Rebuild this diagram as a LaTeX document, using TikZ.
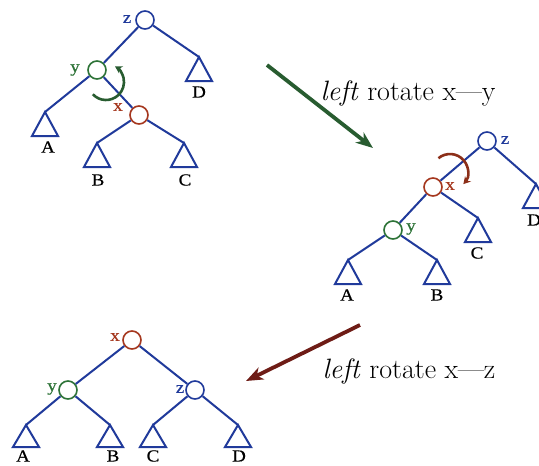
\documentclass[tikz,border=0pt]{standalone}
\usepackage{fontspec}
\newfontfamily\tms[FakeStretch=1.12,FakeBold=0.4]{Liberation Serif}
\usetikzlibrary{arrows.meta}
\definecolor{tblue}{RGB}{32,58,155}
\definecolor{tgreen}{RGB}{45,115,55}
\definecolor{tred}{RGB}{165,55,30}
\definecolor{agreen}{RGB}{40,92,48}
\definecolor{abrown}{RGB}{110,28,22}
\tikzset{
  vtx/.style={circle,draw,line width=1.6pt,minimum size=18pt,inner sep=0pt,fill=white},
  vb/.style={vtx,draw=tblue},
  vg/.style={vtx,draw=tgreen},
  vr/.style={vtx,draw=tred},
  edge/.style={draw=tblue,line width=2pt},
  tri/.style={draw=tblue,line width=2pt,line join=miter},
  lbl/.style={font=\tms\fontsize{17}{19}\selectfont,inner sep=0pt},
  captext/.style={font=\fontsize{28}{32}\selectfont,inner sep=0pt,anchor=base},
  bigarrow/.style={line width=3.8pt,-{Stealth[length=17pt,width=13pt,inset=5pt]}},
  rotarrow/.style={line width=2.6pt,-{Stealth[length=7pt,width=8pt]}},
}
\newcommand{\subtree}[3]{% name, apex, height
  \coordinate (#1) at #2;
  \draw[tri] (#1) -- ++(-13,#3) -- ++(26,0) -- cycle;
}
\begin{document}
\begin{tikzpicture}[x=1pt,y=-1pt]
\useasboundingbox (0,0) rectangle (539,466);
\fill[white] (0,0) rectangle (539,466);

% ---------- tree 1 ----------
\subtree{tA1}{(45,112)}{24}
\subtree{tB1}{(97,143)}{24}
\subtree{tC1}{(184,143)}{24}
\subtree{tD1}{(199,57)}{24}
\node[vb] (z1) at (145,20) {};
\node[vg] (y1) at (97,70) {};
\node[vr] (x1) at (139,115) {};
\draw[edge] (z1) -- (y1);
\draw[edge] (z1) -- (tD1);
\draw[edge] (y1) -- (tA1);
\draw[edge] (y1) -- (x1);
\draw[edge] (x1) -- (tB1);
\draw[edge] (x1) -- (tC1);
\node[lbl,text=tblue] (lz1) at (127,19) {z};
\node[lbl,text=tgreen] (ly1) at (75,70) {y};
\node[lbl,text=tred] (lx1) at (118,107) {x};
\node[lbl] (lA1) at (48,147) {A};
\node[lbl] (lB1) at (98,180) {B};
\node[lbl] (lC1) at (185,180) {C};
\node[lbl] (lD1) at (199,92) {D};
\draw[rotarrow,agreen] (106,82) ++(137:18) arc[start angle=137,end angle=-60,radius=18];

% ---------- arrow 1 ----------
\coordinate (a1s) at (267,65);
\coordinate (a1e) at (373,148);
\draw[bigarrow,agreen] (a1s) -- (a1e);
\node[captext] (cap1) at (408,100) {\textit{left} rotate x---y};

% ---------- tree 2 ----------
\subtree{tA2}{(348,260)}{24}
\subtree{tB2}{(437,260)}{24}
\subtree{tC2}{(478,218)}{24}
\subtree{tD2}{(536,184)}{24}
\node[vb] (z2) at (487,141) {};
\node[vr] (x2) at (433,187) {};
\node[vg] (y2) at (393,230) {};
\draw[edge] (z2) -- (x2);
\draw[edge] (z2) -- (tD2);
\draw[edge] (x2) -- (y2);
\draw[edge] (x2) -- (tC2);
\draw[edge] (y2) -- (tA2);
\draw[edge] (y2) -- (tB2);
\node[lbl,text=tblue] (lz2) at (505,140) {z};
\node[lbl,text=tred] (lx2) at (450,186) {x};
\node[lbl,text=tgreen] (ly2) at (411,229) {y};
\node[lbl] (lA2) at (347,295) {A};
\node[lbl] (lB2) at (437,295) {B};
\node[lbl] (lC2) at (477,253) {C};
\node[lbl] (lD2) at (534,220) {D};
\draw[rotarrow,tred!85!black] (450,172) ++(-130:18) arc[start angle=-130,end angle=42,radius=18];

% ---------- arrow 2 ----------
\coordinate (a2s) at (360,325);
\coordinate (a2e) at (246,381);
\draw[bigarrow,abrown] (a2s) -- (a2e);
\node[captext] (cap2) at (409,378) {\textit{left} rotate x---z};

% ---------- tree 3 ----------
\subtree{tA3}{(26,425)}{22}
\subtree{tB3}{(110,425)}{22}
\subtree{tC3}{(153,425)}{22}
\subtree{tD3}{(238,425)}{22}
\node[vr] (x3) at (132,340) {};
\node[vg] (y3) at (68,390) {};
\node[vb] (z3) at (195,390) {};
\draw[edge] (x3) -- (y3);
\draw[edge] (x3) -- (z3);
\draw[edge] (y3) -- (tA3);
\draw[edge] (y3) -- (tB3);
\draw[edge] (z3) -- (tC3);
\draw[edge] (z3) -- (tD3);
\node[lbl,text=tred] (lx3) at (115,337) {x};
\node[lbl,text=tgreen] (ly3) at (52,389) {y};
\node[lbl,text=tblue] (lz3) at (180,389) {z};
\node[lbl] (lA3) at (23,456) {A};
\node[lbl] (lB3) at (113,456) {B};
\node[lbl] (lC3) at (153,456) {C};
\node[lbl] (lD3) at (239,456) {D};
\end{tikzpicture}
\end{document}
